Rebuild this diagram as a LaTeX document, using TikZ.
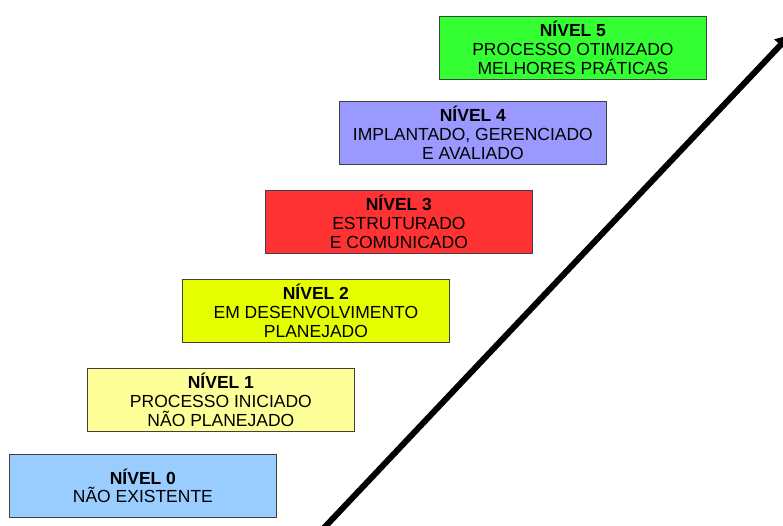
\documentclass[tikz,border=0pt]{standalone}
\usepackage{fontspec}
\setmainfont{Liberation Sans}
\usetikzlibrary{arrows.meta}
\definecolor{c0}{HTML}{99CCFF}
\definecolor{c1}{HTML}{FFFF99}
\definecolor{c2}{HTML}{E6FF00}
\definecolor{c3}{HTML}{FF3333}
\definecolor{c4}{HTML}{9999FF}
\definecolor{c5}{HTML}{33FF33}
\tikzset{
  levelbox/.style={draw=black!75, line width=0.8pt, minimum width=267pt, minimum height=63pt,
    align=center, inner sep=0pt, font=\fontsize{17.5}{18.8}\selectfont, anchor=north west},
}
\begin{document}
\begin{tikzpicture}[x=1pt,y=-1pt]
\useasboundingbox (0,0) rectangle (783,525);
\begin{scope}
\clip (0,0) rectangle (783,525);
\node[levelbox, fill=c0] (n0) at (9,454) {\textbf{NÍVEL 0}\\NÃO EXISTENTE};
\node[levelbox, fill=c1] (n1) at (87,368) {\textbf{NÍVEL 1}\\PROCESSO INICIADO\\NÃO PLANEJADO};
\node[levelbox, fill=c2] (n2) at (182,279) {\textbf{NÍVEL 2}\\EM DESENVOLVIMENTO\\PLANEJADO};
\node[levelbox, fill=c3] (n3) at (265,190) {\textbf{NÍVEL 3}\\ESTRUTURADO\\E COMUNICADO};
\node[levelbox, fill=c4] (n4) at (339,101) {\textbf{NÍVEL 4}\\IMPLANTADO, GERENCIADO\\E AVALIADO};
\node[levelbox, fill=c5] (n5) at (439,16) {\textbf{NÍVEL 5}\\PROCESSO OTIMIZADO\\MELHORES PRÁTICAS};
\coordinate (a0) at (322,530);
\coordinate (a1) at (790,35);
\draw[line width=6pt, -{Triangle[length=14pt,width=16pt]}] (a0) -- (a1);
\end{scope}
\end{tikzpicture}
\end{document}
